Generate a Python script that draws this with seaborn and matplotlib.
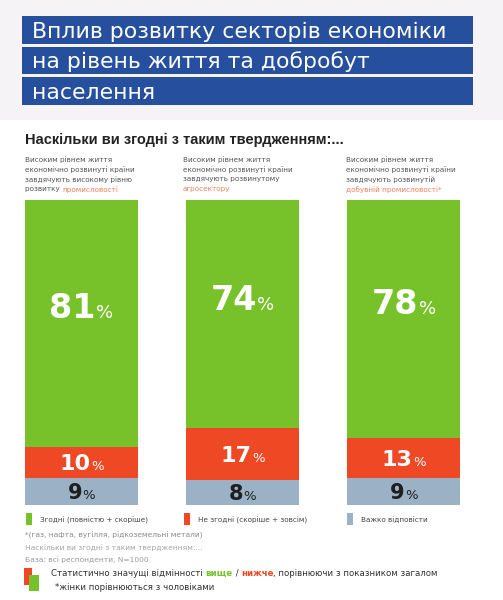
import matplotlib
matplotlib.use("Agg")
import matplotlib.pyplot as plt
import seaborn as sns
import pandas as pd
from matplotlib.patches import Rectangle

sns.set_theme(style="white")
plt.rcParams['font.family'] = ['DejaVu Sans']

# ---- data ----
title_lines = ["Вплив розвитку секторів економіки", "на рівень життя та добробут", "населення"]
subtitle = "Наскільки ви згодні з таким твердженням:..."
col_text = [
    ["Високим рівнем життя", "економічно розвинуті країни", "завдячують високому рівню", "розвитку "],
    ["Високим рівнем життя", "економічно розвинуті країни", "завдячують розвинутому", ""],
    ["Високим рівнем життя", "економічно розвинуті країни", "завдячують розвинутій", ""],
]
sectors = ["промисловості", "агросектору", "добувній промисловості*"]
agree = [81, 74, 78]
disagree = [10, 17, 13]
hard = [9, 8, 9]
legend_labels = ["Згодні (повністю + скоріше)", "Не згодні (скоріше + зовсім)", "Важко відповісти"]
footnotes = ["*(газ, нафта, вугілля, рідкоземельні метали)",
             "Наскільки ви згодні з таким твердженням:...",
             "База: всі респонденти, N=1000"]

GREEN = "#77c22b"
RED = "#ee4825"
GRAY = "#9bb2c6"
BLUE = "#264f9d"
ORANGE = "#f08158"

W, H = 503, 600
fig = plt.figure(figsize=(W / 100, H / 100), dpi=100)
fig.patch.set_facecolor("white")

# background overlay axes in pixel coords (y downward)
ov = fig.add_axes([0, 0, 1, 1], zorder=0)
ov.set_xlim(0, W)
ov.set_ylim(H, 0)
ov.axis("off")
ov.add_patch(Rectangle((0, 0), W, 120, color="#f5f3f5", lw=0))
TS = 15.8
tcap = 0.729 * TS * 100 / 72
for i, line in enumerate(title_lines):
    y0 = 16 + i * 30.5
    ov.add_patch(Rectangle((22, y0), 451, 27.5, color=BLUE, lw=0))
    ov.text(32, y0 + 13.75 + tcap / 2, line, color="white", fontsize=TS, va="baseline", ha="left")

ov.text(25, 140, subtitle, fontsize=10.5, weight="bold", color="#222222", va="center",
        family="Liberation Sans")

# bar axes
ax = fig.add_axes([25 / W, (H - 505) / H, 435 / W, 305 / H], zorder=1)
ax.patch.set_alpha(0)
tot = [a + d + h for a, d, h in zip(agree, disagree, hard)]
df = pd.DataFrame({
    "sector": sectors,
    "total": [100.0] * 3,
    "low2": [(d + h) / t * 100 for d, h, t in zip(disagree, hard, tot)],
    "low1": [h / t * 100 for h, t in zip(hard, tot)],
})
sns.barplot(data=df, x="sector", y="total", color=GREEN, width=0.7, ax=ax, saturation=1, linewidth=0)
sns.barplot(data=df, x="sector", y="low2", color=RED, width=0.7, ax=ax, saturation=1, linewidth=0)
sns.barplot(data=df, x="sector", y="low1", color=GRAY, width=0.7, ax=ax, saturation=1, linewidth=0)
ax.set_xlim(-0.35, 2.35)
ax.set_ylim(0, 100)
ax.axis("off")

# top overlay for labels
top = fig.add_axes([0, 0, 1, 1], zorder=2)
top.set_xlim(0, W)
top.set_ylim(H, 0)
top.axis("off")
top.patch.set_alpha(0)

renderer = fig.canvas.get_renderer()


def to_px(x, y):
    dx, dy = ax.transData.transform((x, y))
    return dx, H - dy


def pct_label(i, yval, num, size, psize, color, gap):
    cx, cy = to_px(i, yval)
    cap = 0.729 * size * 100 / 72
    base = cy + cap / 2
    t1 = top.text(0, base, str(num), fontsize=size, weight="bold", color=color, va="baseline", ha="left")
    t2 = top.text(0, base, "%", fontsize=psize, color=color, va="baseline", ha="left")
    w1 = t1.get_window_extent(renderer).width
    w2 = t2.get_window_extent(renderer).width
    x0 = cx - (w1 + gap + w2) / 2
    t1.set_x(x0)
    t2.set_x(x0 + w1 + gap)


for i in range(3):
    a, d, h = df["total"][i], df["low2"][i], df["low1"][i]
    pct_label(i, d + 0.57 * (a - d), agree[i], 24, 13, "white", 0.5)
    pct_label(i, (d + h) / 2, disagree[i], 16, 9.5, "white", 0.5)
    pct_label(i, h / 2, hard[i], 15, 9.5, "#1e1e1e", 0.5)

# column texts
col_x = [25, 183, 346]
for i in range(3):
    lines = col_text[i]
    for j, ln in enumerate(lines):
        y = 160 + j * 9.7
        ov.text(col_x[i], y, ln, fontsize=5.2, color="#555555", va="center")
    last = lines[-1]
    if last:
        t = ov.text(col_x[i], 160 + 3 * 9.7, last, fontsize=5.2, va="center", alpha=0)
        w = t.get_window_extent(renderer).width
        ov.text(col_x[i] + w, 160 + 3 * 9.7, sectors[i], fontsize=5.2, color=ORANGE, va="center")
    else:
        ov.text(col_x[i], 160 + 3 * 9.7, sectors[i], fontsize=5.2, color=ORANGE, va="center")

# legend
leg_x = [26, 184, 347]
leg_c = [GREEN, RED, GRAY]
for i in range(3):
    ov.add_patch(Rectangle((leg_x[i], 513), 6, 12, color=leg_c[i], lw=0))
    ov.text(leg_x[i] + 14, 520, legend_labels[i], fontsize=5.2, color="#444444", va="center")

fn_col = ["#8a8a8a", "#a5a5a5", "#9a9a9a"]
for j, f in enumerate(footnotes):
    ov.text(25, 535 + j * 12.3, f, fontsize=5.4, color=fn_col[j], va="center")

# significance legend
ov.add_patch(Rectangle((24, 568), 8, 17, color=RED, lw=0, zorder=3))
ov.add_patch(Rectangle((29, 575), 10, 16, color=GREEN, lw=0, zorder=4))
parts = [("Статистично значущі відмінності ", "#333333", "normal"),
         ("вище", GREEN, "bold"),
         (" / ", "#333333", "normal"),
         ("нижче", RED, "bold"),
         (", порівнюючи з показником загалом", "#333333", "normal")]
x = 51
for s, c, wgt in parts:
    t = ov.text(x, 573, s, fontsize=6.2, color=c, weight=wgt, va="center")
    x += t.get_window_extent(renderer).width
ov.text(55, 588, "*жінки порівнюються з чоловіками", fontsize=6.2, color="#333333", va="center")

fig.savefig("out.png", dpi=100)
